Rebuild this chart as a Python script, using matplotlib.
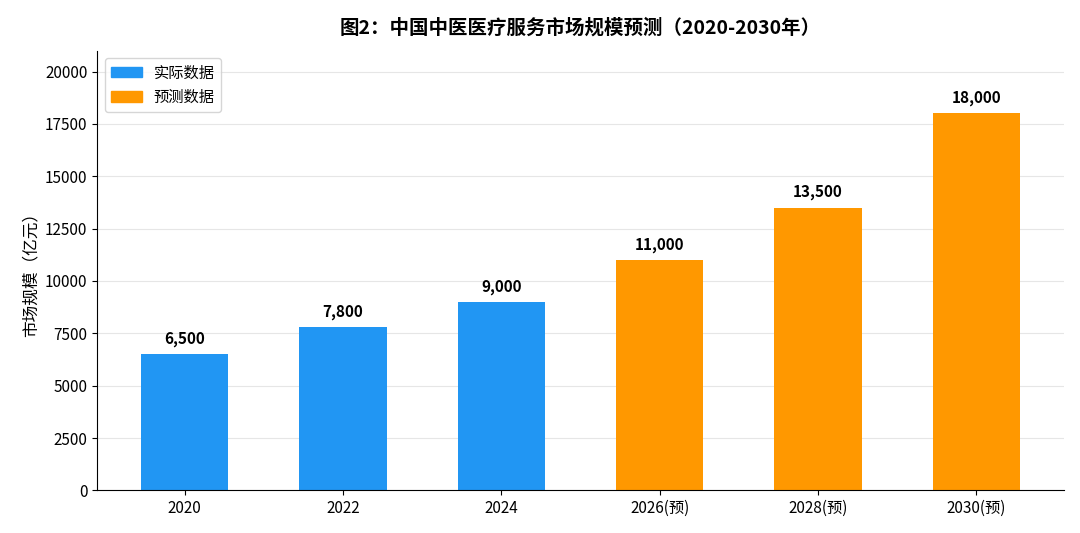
import matplotlib
matplotlib.use("Agg")
import matplotlib.pyplot as plt
from matplotlib.patches import Patch

plt.rcParams['font.family'] = ['Noto Sans CJK SC', 'DejaVu Sans']

years = ['2020', '2022', '2024', '2026(预)', '2028(预)', '2030(预)']
values = [6500, 7800, 9000, 11000, 13500, 18000]
is_forecast = [False, False, False, True, True, True]

blue = '#2196F3'
orange = '#FF9800'
colors = [orange if f else blue for f in is_forecast]

fig, ax = plt.subplots(figsize=(10.8, 5.33), dpi=100)
x = range(len(years))
ax.bar(x, values, width=0.55, color=colors, zorder=2)
for i, v in zip(x, values):
    ax.text(i, v + 350, f'{v:,}', ha='center', va='bottom', fontsize=11, fontweight='bold')

ax.set_xticks(list(x))
ax.set_xticklabels(years, fontsize=11)
ax.set_ylim(0, 21000)
ax.set_yticks(range(0, 20001, 2500))
ax.tick_params(axis='y', labelsize=11)
ax.set_ylabel('市场规模（亿元）', fontsize=12)
ax.set_title('图2：中国中医医疗服务市场规模预测（2020-2030年）', fontsize=14, fontweight='bold', pad=12)
ax.grid(axis='y', color='#e6e6e6', zorder=0)
ax.spines['top'].set_visible(False)
ax.spines['right'].set_visible(False)
ax.legend(handles=[Patch(color=blue, label='实际数据'), Patch(color=orange, label='预测数据')],
          loc='upper left', fontsize=11)
plt.subplots_adjust(left=0.09, right=0.985, top=0.905, bottom=0.08)
fig.savefig('out.png')
